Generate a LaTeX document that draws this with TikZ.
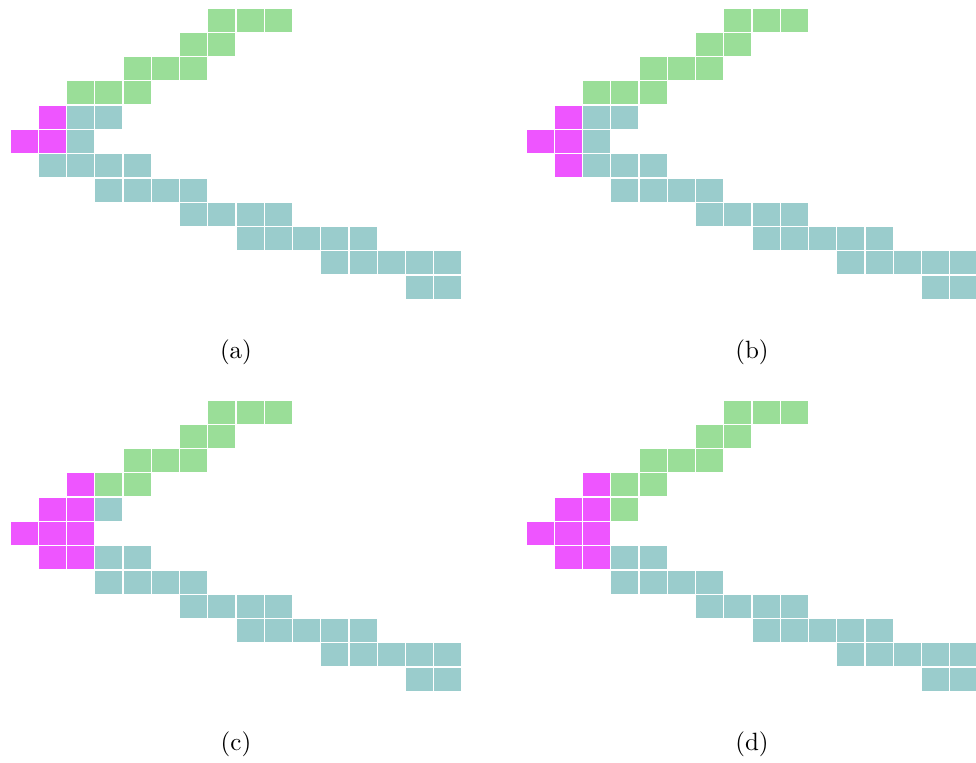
\documentclass[tikz,border=0pt]{standalone}
\usepackage{xcolor}
\usepackage{tikz}
\definecolor{pathgreen}{RGB}{154,222,152}
\definecolor{pathteal}{RGB}{154,204,204}
\definecolor{pathmagenta}{RGB}{238,85,255}
\tikzset{
  cell/.style={draw=white,line width=0.5pt},
  greencell/.style={cell,fill=pathgreen},
  tealcell/.style={cell,fill=pathteal},
  magentacell/.style={cell,fill=pathmagenta},
  sublabel/.style={font=\normalsize,inner sep=0pt}
}
% draw a list of col/row cells in one style
\newcommand{\cells}[2]{%
  \foreach \cx/\cy in {#2} {\draw[#1] (\cx,\cy) rectangle ++(1,1);}}
% cells that every panel shares
\newcommand{\commoncells}{%
  \cells{greencell}{7/0,8/0,9/0,6/1,7/1,4/2,5/2,6/2}
  \cells{tealcell}{3/7,4/7,5/7,6/7,6/8,7/8,8/8,9/8,8/9,9/9,10/9,11/9,12/9,
    11/10,12/10,13/10,14/10,15/10,14/11,15/11}
  \cells{magentacell}{1/4,0/5,1/5}}

\begin{document}
\begin{tikzpicture}[x=11.3pt,y=-9.708pt]
  \useasboundingbox (0,0) rectangle (34.549,31.438);
  \clip (0,0) rectangle (34.549,31.438);
  % (a)
  \begin{scope}[shift={(0.354,0.33)}]
    \commoncells
    \cells{greencell}{2/3,3/3,4/3}
    \cells{tealcell}{2/4,3/4,2/5,1/6,2/6,3/6,4/6}
    \node[sublabel] (capa) at (8,14.19) {(a)};
  \end{scope}
  % (b)
  \begin{scope}[shift={(18.619,0.33)}]
    \commoncells
    \cells{greencell}{2/3,3/3,4/3}
    \cells{tealcell}{2/4,3/4,2/5,2/6,3/6,4/6}
    \cells{magentacell}{1/6}
    \node[sublabel] (capb) at (8,14.19) {(b)};
  \end{scope}
  % (c)
  \begin{scope}[shift={(0.354,16.482)}]
    \commoncells
    \cells{greencell}{3/3,4/3}
    \cells{tealcell}{3/4,3/6,4/6}
    \cells{magentacell}{2/3,2/4,2/5,1/6,2/6}
    \node[sublabel] (capc) at (8,14.19) {(c)};
  \end{scope}
  % (d)
  \begin{scope}[shift={(18.619,16.482)}]
    \commoncells
    \cells{greencell}{3/3,4/3,3/4}
    \cells{tealcell}{3/6,4/6}
    \cells{magentacell}{2/3,2/4,2/5,1/6,2/6}
    \node[sublabel] (capd) at (8,14.19) {(d)};
  \end{scope}
\end{tikzpicture}
\end{document}
